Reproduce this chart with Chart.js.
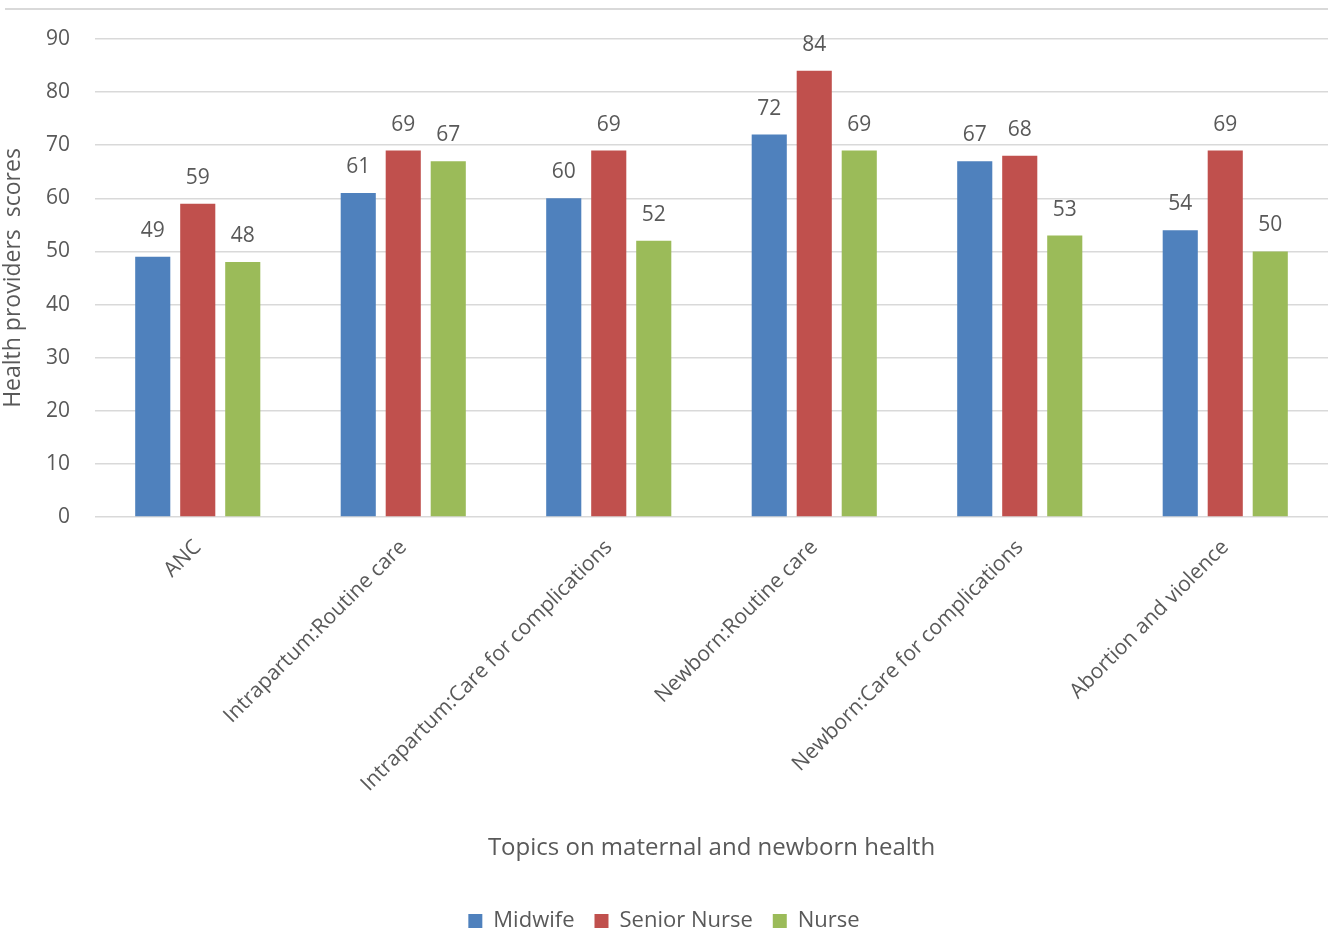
<!DOCTYPE html>
<html>
<head>
<meta charset="utf-8">
<script src="https://cdn.jsdelivr.net/npm/chart.js@4"></script>
<style>
  html, body { margin: 0; padding: 0; background: #fff; }
  #wrap { width: 1328px; height: 936px; position: relative; }
</style>
</head>
<body>
<div id="wrap"><canvas id="scoreChart"></canvas></div>
<script>
const topics = [
  "ANC",
  "Intrapartum:Routine care",
  "Intrapartum:Care for complications",
  "Newborn:Routine care",
  "Newborn:Care for complications",
  "Abortion and violence"
];
const midwife = [49, 61, 60, 72, 67, 54];
const seniorNurse = [59, 69, 69, 84, 68, 69];
const nurse = [48, 67, 52, 69, 53, 50];
const yTicks = [0, 10, 20, 30, 40, 50, 60, 70, 80, 90];

const textColor = "#595959";
const fontFamily = "'Open Sans', 'DejaVu Sans', sans-serif";

// top frame line + value labels above the bars
const extras = {
  id: "extras",
  beforeDraw(chart) {
    const ctx = chart.ctx;
    ctx.save();
    ctx.strokeStyle = "#d9d9d9";
    ctx.lineWidth = 2;
    ctx.beginPath();
    ctx.moveTo(5, 9);
    ctx.lineTo(chart.width, 9);
    ctx.stroke();
    ctx.restore();
  },
  afterDatasetsDraw(chart) {
    const ctx = chart.ctx;
    ctx.save();
    ctx.fillStyle = textColor;
    ctx.font = "21px " + fontFamily;
    ctx.textAlign = "center";
    ctx.textBaseline = "alphabetic";
    chart.data.datasets.forEach((ds, i) => {
      chart.getDatasetMeta(i).data.forEach((bar, j) => {
        ctx.fillText(ds.data[j], bar.x, bar.y - 20);
      });
    });
    ctx.restore();
  }
};

new Chart(document.getElementById("scoreChart").getContext("2d"), {
  type: "bar",
  data: {
    labels: topics,
    datasets: [
      { label: "Midwife", data: midwife, backgroundColor: "#4F81BD" },
      { label: "Senior Nurse", data: seniorNurse, backgroundColor: "#C0504D" },
      { label: "Nurse", data: nurse, backgroundColor: "#9BBB59" }
    ]
  },
  options: {
    responsive: true,
    maintainAspectRatio: false,
    animation: false,
    barPercentage: 0.78,
    categoryPercentage: 0.657,
    layout: { padding: { top: 39, right: 0, left: 0, bottom: -6 } },
    plugins: {
      tooltip: { enabled: false },
      legend: {
        position: "bottom",
        labels: {
          color: textColor,
          font: { size: 22, family: fontFamily },
          boxWidth: 14,
          boxHeight: 14,
          padding: 20
        }
      }
    },
    scales: {
      x: {
        grid: { display: false },
        border: { display: false },
        ticks: {
          color: textColor,
          font: { size: 21, family: fontFamily },
          minRotation: 45,
          maxRotation: 45,
          autoSkip: false,
          padding: 10
        },
        title: {
          display: true,
          text: "Topics on maternal and newborn health",
          color: textColor,
          font: { size: 24, family: fontFamily },
          padding: { top: 20, bottom: 27 }
        },
        afterFit(scale) { scale.height = 373; }
      },
      y: {
        min: 0,
        max: 90,
        afterBuildTicks(scale) { scale.ticks = yTicks.map(v => ({ value: v })); },
        grid: { color: "#d9d9d9", lineWidth: 1.5, drawTicks: false },
        border: { display: false },
        ticks: {
          color: textColor,
          font: { size: 21, family: fontFamily },
          padding: 25
        },
        title: {
          display: true,
          text: "Health providers  scores",
          color: textColor,
          font: { size: 23, family: fontFamily },
          padding: { top: 0, bottom: 4 }
        },
        afterFit(scale) { scale.width = 95; }
      }
    }
  },
  plugins: [extras]
});
</script>
</body>
</html>
